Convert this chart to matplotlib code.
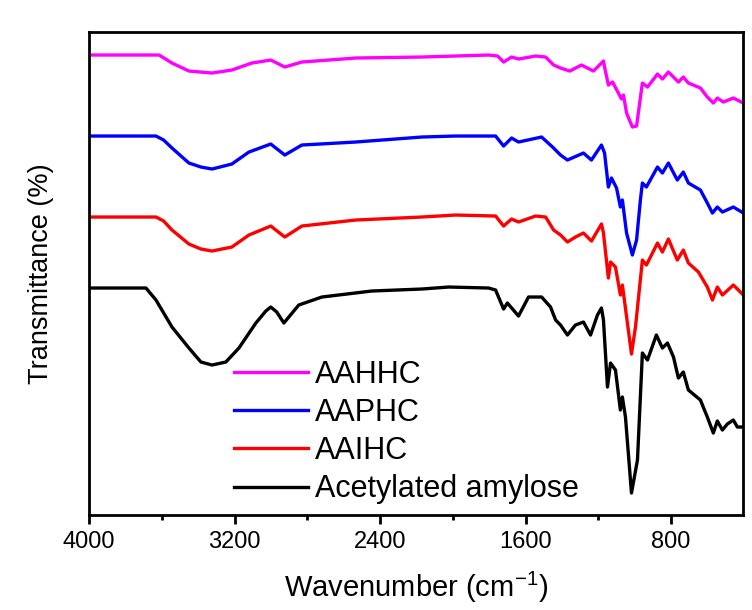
import numpy as np
import matplotlib
matplotlib.use('Agg')
import matplotlib.pyplot as plt
from matplotlib.ticker import MultipleLocator

plt.rcParams['font.family'] = ['Liberation Sans', 'DejaVu Sans']
plt.rcParams['mathtext.fontset'] = 'custom'
plt.rcParams['mathtext.rm'] = 'Liberation Sans'

# FTIR spectra: wavenumber (cm-1) and transmittance (a.u.)
wn_aa = [4000, 3687, 3632, 3544, 3451, 3385, 3324, 3248, 3176, 3083, 3028, 3001, 2968, 2929,
         2847, 2720, 2446, 2171, 2023, 1803, 1765, 1721, 1700, 1639, 1584, 1512, 1463, 1435,
         1408, 1370, 1326, 1282, 1243, 1205, 1183, 1172, 1150, 1133, 1106, 1079, 1068, 1051,
         1018, 985, 958, 930, 881, 848, 820, 787, 760, 733, 705, 639, 601, 568, 546, 518,
         491, 458, 436, 403]
t_aa = [227, 227, 215, 188, 167, 153, 150, 153, 167, 192, 204, 208, 203, 192,
        210, 218, 224, 226, 228, 227, 225, 206, 212, 199, 218, 218, 208, 195,
        190, 180, 190, 193, 180, 200, 207, 195, 128, 152, 145, 105, 118, 98,
        22, 55, 162, 155, 180, 167, 172, 158, 137, 143, 125, 115, 98, 82, 94, 85,
        91, 95, 88, 88]

wn_aaihc = [4000, 3632, 3590, 3544, 3451, 3385, 3324, 3215, 3121, 3001, 2924, 2830, 2534,
            2171, 1985, 1765, 1721, 1677, 1639, 1545, 1490, 1446, 1408, 1370, 1326, 1282,
            1238, 1183, 1172, 1145, 1133, 1106, 1079, 1068, 1057, 1018, 996, 958, 936, 875,
            848, 815, 766, 733, 705, 650, 601, 573, 546, 518, 458, 403]
t_aaihc = [298, 298, 294, 285, 271, 266, 264, 268, 280, 289, 278, 289, 295,
           298, 300, 299, 289, 296, 293, 299, 298, 285, 280, 273, 278, 282,
           274, 291, 282, 237, 253, 248, 220, 230, 215, 161, 188, 255, 250, 272,
           263, 276, 255, 265, 252, 243, 228, 215, 228, 220, 230, 220]

wn_aaphc = [4000, 3632, 3590, 3544, 3451, 3385, 3324, 3215, 3121, 3001, 2924, 2830, 2534,
            2171, 1985, 1765, 1721, 1677, 1639, 1512, 1452, 1408, 1370, 1282, 1238, 1183,
            1166, 1145, 1128, 1100, 1079, 1068, 1045, 1013, 990, 969, 958, 936, 875, 848,
            815, 766, 733, 705, 639, 601, 573, 546, 518, 458, 403]
t_aaphc = [379, 379, 375, 367, 352, 348, 346, 351, 363, 371, 360, 370, 373,
           378, 379, 379, 369, 377, 373, 378, 368, 360, 355, 362, 355, 370,
           362, 328, 337, 327, 308, 315, 282, 260, 275, 315, 332, 328, 348, 342,
           352, 335, 343, 332, 325, 312, 302, 308, 303, 308, 302]

wn_aahhc = [4000, 3615, 3544, 3451, 3324, 3215, 3105, 3001, 2924, 2830, 2534, 2171, 1803,
            1754, 1721, 1677, 1639, 1545, 1490, 1446, 1408, 1357, 1293, 1227, 1172, 1166,
            1145, 1122, 1090, 1073, 1062, 1045, 1013, 990, 958, 930, 875, 848, 815, 760,
            733, 705, 639, 601, 568, 546, 513, 458, 403]
t_aahhc = [460, 460, 452, 444, 442, 445, 452, 455, 448, 453, 457, 458, 460,
           459, 453, 458, 456, 459, 458, 450, 447, 444, 450, 444, 454, 448,
           430, 433, 422, 416, 420, 402, 388, 389, 432, 428, 441, 436, 443, 433,
           438, 432, 427, 418, 412, 417, 413, 417, 412]

names = ['AAHHC', 'AAPHC', 'AAIHC', 'Acetylated amylose']
colors = ['#ff00ff', '#0000ff', '#ff0000', '#000000']
series = [(wn_aahhc, t_aahhc), (wn_aaphc, t_aaphc), (wn_aaihc, t_aaihc), (wn_aa, t_aa)]

fig = plt.figure(figsize=(7.52, 6.10), dpi=100)
ax = fig.add_axes([0.1184, 0.1557, 0.8696, 0.7918])

for (x, y), c, n in zip(series, colors, names):
    ax.plot(x, y, color=c, lw=2.4, label=n)

ax.set_xlim(4000, 405)
ax.set_ylim(0, 483)
ax.xaxis.set_major_locator(MultipleLocator(800))
ax.xaxis.set_minor_locator(MultipleLocator(400))
ax.set_yticks([])
ax.tick_params(axis='x', which='major', direction='out', length=6.5, width=2,
               labelsize=17, pad=5)
ax.tick_params(axis='x', which='minor', direction='out', length=3.5, width=2)
for s in ax.spines.values():
    s.set_linewidth(2)

ax.set_xlabel('Wavenumber (cm$^{\\mathrm{-1}}$)', fontsize=21, labelpad=12)
ax.set_ylabel('Transmittance (%)', fontsize=19.5, labelpad=25)

ax.legend(loc='lower left', bbox_to_anchor=(0.222, 0.022), frameon=False,
          fontsize=22, handlelength=2.4, handletextpad=0.25, labelspacing=0.27,
          borderpad=0, borderaxespad=0)

fig.savefig('out.png', dpi=100)
